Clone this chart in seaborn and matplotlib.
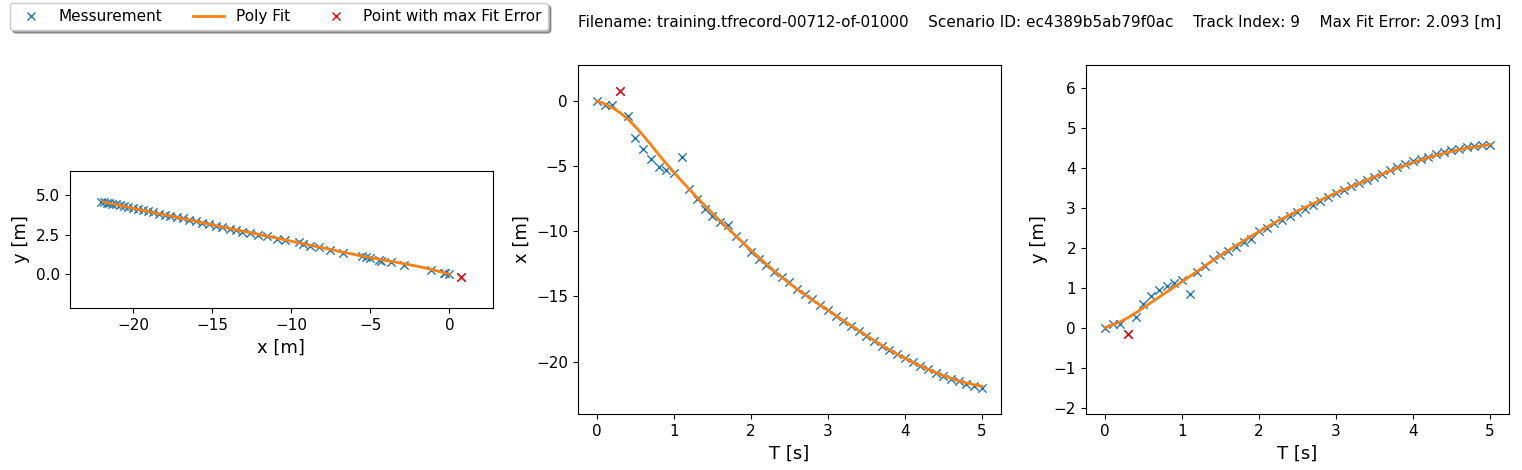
import numpy as np
import pandas as pd
import matplotlib
matplotlib.use("Agg")
import matplotlib.pyplot as plt
import seaborn as sns
from matplotlib.lines import Line2D

# ---------------- data ----------------
t_meas = [0.0, 0.1, 0.2, 0.3, 0.4, 0.5, 0.6, 0.7, 0.8, 0.9,
          1.0, 1.1, 1.2, 1.3, 1.4, 1.5, 1.6, 1.7, 1.8, 1.9,
          2.0, 2.1, 2.2, 2.3, 2.4, 2.5, 2.6, 2.7, 2.8, 2.9,
          3.0, 3.1, 3.2, 3.3, 3.4, 3.5, 3.6, 3.7, 3.8, 3.9,
          4.0, 4.1, 4.2, 4.3, 4.4, 4.5, 4.6, 4.7, 4.8, 4.9, 5.0]
x_meas = [0.00, -0.33, -0.28, 0.76, -1.15, -2.87, -3.71, -4.45, -5.04, -5.29,
          -5.54, -4.32, -6.76, -7.53, -8.27, -8.85, -9.28, -9.54, -10.38, -10.94,
          -11.57, -12.11, -12.62, -13.10, -13.48, -13.89, -14.40, -14.78, -15.21, -15.67,
          -16.05, -16.49, -16.87, -17.25, -17.68, -18.01, -18.40, -18.78, -19.08, -19.41,
          -19.72, -20.05, -20.31, -20.61, -20.86, -21.11, -21.37, -21.52, -21.70, -21.88, -22.03]
y_meas = [0.00, 0.09, 0.09, -0.16, 0.26, 0.59, 0.79, 0.93, 1.04, 1.11,
          1.19, 0.84, 1.38, 1.55, 1.71, 1.82, 1.93, 2.03, 2.15, 2.23,
          2.42, 2.50, 2.61, 2.70, 2.80, 2.89, 2.98, 3.08, 3.18, 3.28,
          3.37, 3.45, 3.54, 3.62, 3.70, 3.78, 3.85, 3.95, 4.02, 4.09,
          4.16, 4.22, 4.28, 4.34, 4.39, 4.44, 4.48, 4.51, 4.54, 4.56, 4.57]

t_fit = [0.0, 0.1, 0.2, 0.3, 0.4, 0.5, 0.6, 0.7, 0.8, 0.9,
         1.0, 1.1, 1.2, 1.3, 1.4, 1.5, 1.6, 1.7, 1.8, 1.9,
         2.0, 2.1, 2.2, 2.3, 2.4, 2.5, 2.6, 2.7, 2.8, 2.9,
         3.0, 3.1, 3.2, 3.3, 3.4, 3.5, 3.6, 3.7, 3.8, 3.9,
         4.0, 4.1, 4.2, 4.3, 4.4, 4.5, 4.6, 4.7, 4.8, 4.9, 5.0]
x_fit = [0.00, -0.22, -0.52, -0.90, -1.38, -1.98, -2.65, -3.35, -4.10, -4.80,
         -5.48, -6.14, -6.78, -7.40, -8.02, -8.62, -9.20, -9.78, -10.34, -10.90,
         -11.45, -11.99, -12.52, -13.03, -13.52, -14.00, -14.44, -14.86, -15.27, -15.67,
         -16.05, -16.45, -16.85, -17.24, -17.62, -18.00, -18.38, -18.75, -19.10, -19.43,
         -19.75, -20.05, -20.33, -20.60, -20.85, -21.08, -21.29, -21.48, -21.64, -21.78, -21.90]
y_fit = [0.00, 0.07, 0.15, 0.25, 0.37, 0.50, 0.63, 0.76, 0.89, 1.02,
         1.15, 1.28, 1.41, 1.55, 1.68, 1.80, 1.93, 2.05, 2.17, 2.29,
         2.40, 2.51, 2.62, 2.72, 2.82, 2.92, 3.01, 3.10, 3.19, 3.28,
         3.37, 3.45, 3.53, 3.61, 3.69, 3.77, 3.84, 3.92, 3.99, 4.06,
         4.13, 4.19, 4.25, 4.31, 4.36, 4.41, 4.45, 4.49, 4.52, 4.55, 4.58]

max_err_index = 3  # measurement with the maximum fit error

legend_labels = ["Messurement", "Poly Fit", "Point with max Fit Error"]
info_text = ("Filename: training.tfrecord-00712-of-01000    Scenario ID: ec4389b5ab79f0ac    "
             "Track Index: 9    Max Fit Error: 2.093 [m]")

# ---------------- frames ----------------
meas = pd.DataFrame({"T": t_meas, "x": x_meas, "y": y_meas})
fit = pd.DataFrame({"T": t_fit, "x": x_fit, "y": y_fit})
worst = meas.iloc[[max_err_index]]

blue, orange, red = "#1f77b4", "#ff7f0e", "red"

fig = plt.figure(figsize=(15.22, 4.70), dpi=100)
axes = fig.subplots(1, 3)
fig.subplots_adjust(left=0.0458, right=0.9915, top=0.8617, bottom=0.1191, wspace=0.2)

def draw(ax, xcol, ycol):
    sns.scatterplot(data=meas, x=xcol, y=ycol, ax=ax, marker="x", color=blue,
                    s=36, linewidth=1.0, legend=False, zorder=2)
    sns.lineplot(data=fit, x=xcol, y=ycol, ax=ax, color=orange, linewidth=2,
                 sort=False, estimator=None, legend=False, zorder=3)
    sns.scatterplot(data=worst, x=xcol, y=ycol, ax=ax, marker="x", color=red,
                    s=36, linewidth=1.0, legend=False, zorder=4)

LABEL_FS = 13
TICK_FS = 11

# panel 1: y over x
ax = axes[0]
draw(ax, "x", "y")
ax.set_xlim(meas["x"].min() - 2, meas["x"].max() + 2)
ax.set_ylim(meas["y"].min() - 2, meas["y"].max() + 2)
ax.set_aspect("equal", adjustable="box")
ax.set_xlabel("x [m]", fontsize=LABEL_FS)
ax.set_ylabel("y [m]", fontsize=LABEL_FS)

# panel 2: x over T
ax = axes[1]
draw(ax, "T", "x")
ax.set_ylim(meas["x"].min() - 2, meas["x"].max() + 2)
ax.set_xlabel("T [s]", fontsize=LABEL_FS)
ax.set_ylabel("x [m]", fontsize=LABEL_FS)

# panel 3: y over T
ax = axes[2]
draw(ax, "T", "y")
ax.set_ylim(meas["y"].min() - 2, meas["y"].max() + 2)
ax.set_xlabel("T [s]", fontsize=LABEL_FS)
ax.set_ylabel("y [m]", fontsize=LABEL_FS)

for ax in axes:
    ax.tick_params(labelsize=TICK_FS)

handles = [
    Line2D([], [], linestyle="none", marker="x", color=blue, markersize=6, markeredgewidth=1.0),
    Line2D([], [], color=orange, linewidth=2),
    Line2D([], [], linestyle="none", marker="x", color=red, markersize=6, markeredgewidth=1.0),
]
fig.legend(handles, legend_labels, loc="upper left", ncol=3, shadow=True,
           bbox_to_anchor=(10 / 1522, 1 - 3 / 470), borderaxespad=0, fontsize=11)
fig.text(578 / 1522, 1 - 22 / 470, info_text, ha="left", va="center", fontsize=11)

fig.savefig("out.png", dpi=100)
